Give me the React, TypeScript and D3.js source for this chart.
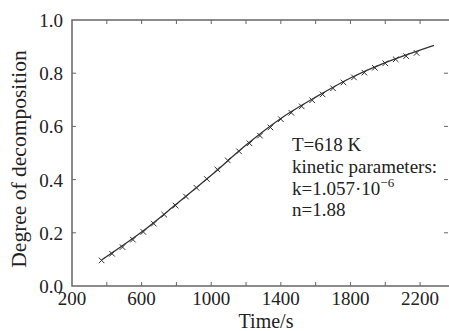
import React, { useRef, useEffect } from 'react';
import * as d3 from 'd3';

// measured points (x markers)
const timePoints = [370, 430, 490, 550, 610, 670, 730, 795, 855, 915, 975, 1035, 1095, 1160, 1220, 1280, 1340, 1400, 1460, 1520, 1580, 1640, 1700, 1760, 1820, 1880, 1940, 2000, 2060, 2120, 2180];
const degreePoints = [0.100, 0.125, 0.150, 0.178, 0.207, 0.238, 0.272, 0.306, 0.340, 0.373, 0.406, 0.442, 0.476, 0.510, 0.540, 0.569, 0.600, 0.631, 0.655, 0.679, 0.702, 0.724, 0.747, 0.769, 0.788, 0.806, 0.824, 0.841, 0.856, 0.868, 0.880];

// fitted curve
const fitTime = [370, 600, 800, 1000, 1200, 1400, 1600, 1800, 2000, 2280];
const fitDegree = [0.098, 0.203, 0.308, 0.416, 0.530, 0.630, 0.710, 0.782, 0.840, 0.905];

const xTicks = [200, 600, 1000, 1400, 1800, 2200];
const xMinorTicks = [400, 600, 800, 1000, 1200, 1400, 1600, 1800, 2000, 2200];
const yTicks = [0.0, 0.2, 0.4, 0.6, 0.8, 1.0];

const annotation = ['T=618 K', 'kinetic parameters:', 'k=1.057·10', 'n=1.88'];

const App = () => {
  const svgRef = useRef(null);
  const width = 449;
  const height = 331;
  const margin = { top: 20, right: 0, bottom: 45, left: 72 };

  useEffect(() => {
    const svg = d3.select(svgRef.current);
    svg.selectAll('*').remove();

    const x = d3.scaleLinear().domain([200, 2372]).range([margin.left, width + 1]);
    const y = d3.scaleLinear().domain([0, 1]).range([height - margin.bottom, margin.top]);
    const font = '"Liberation Serif", "Times New Roman", serif';
    const axisColor = '#666';
    const tickLen = 4;

    const g = svg.append('g');

    // frame
    g.append('rect')
      .attr('x', x(200)).attr('y', y(1))
      .attr('width', x(2372) - x(200)).attr('height', y(0) - y(1))
      .attr('fill', 'none').attr('stroke', axisColor).attr('stroke-width', 1.5);

    // ticks, inward on all sides
    xMinorTicks.forEach(t => {
      g.append('line').attr('x1', x(t)).attr('x2', x(t))
        .attr('y1', y(0)).attr('y2', y(0) - tickLen)
        .attr('stroke', axisColor).attr('stroke-width', 1);
      g.append('line').attr('x1', x(t)).attr('x2', x(t))
        .attr('y1', y(1)).attr('y2', y(1) + tickLen)
        .attr('stroke', axisColor).attr('stroke-width', 1);
    });
    yTicks.slice(1, -1).forEach(v => {
      g.append('line').attr('x1', x(200)).attr('x2', x(200) + tickLen)
        .attr('y1', y(v)).attr('y2', y(v))
        .attr('stroke', axisColor).attr('stroke-width', 1);
      g.append('line').attr('x1', width - 1).attr('x2', width - 1 - tickLen)
        .attr('y1', y(v)).attr('y2', y(v))
        .attr('stroke', axisColor).attr('stroke-width', 1);
    });

    // tick labels
    g.selectAll('.xlab').data(xTicks).enter().append('text')
      .attr('x', d => x(d)).attr('y', y(0) + 19)
      .attr('text-anchor', 'middle')
      .attr('font-family', font).attr('font-size', 19).attr('fill', '#222')
      .text(d => d);

    g.selectAll('.ylab').data(yTicks).enter().append('text')
      .attr('x', x(200) - 9).attr('y', d => y(d) + 7)
      .attr('text-anchor', 'end')
      .attr('font-family', font).attr('font-size', 19).attr('fill', '#222')
      .text(d => d.toFixed(1));

    // axis titles
    g.append('text')
      .attr('x', 266).attr('y', 328)
      .attr('text-anchor', 'middle')
      .attr('font-family', font).attr('font-size', 20).attr('fill', '#222')
      .text('Time/s');

    g.append('text')
      .attr('transform', `translate(26, 159) rotate(-90)`)
      .attr('text-anchor', 'middle')
      .attr('font-family', font).attr('font-size', 21.5).attr('fill', '#222')
      .text('Degree of decomposition');

    // fit line
    const fitData = fitTime.map((t, i) => [t, fitDegree[i]]);
    g.append('path')
      .datum(fitData)
      .attr('d', d3.line().x(d => x(d[0])).y(d => y(d[1])).curve(d3.curveCatmullRom))
      .attr('fill', 'none').attr('stroke', '#333').attr('stroke-width', 1.3);

    // markers
    const sym = d3.symbol().type(d3.symbolX).size(22);
    g.selectAll('.pt').data(timePoints).enter().append('path')
      .attr('d', sym)
      .attr('transform', (d, i) => `translate(${x(d)},${y(degreePoints[i]) + 1})`)
      .attr('fill', 'none').attr('stroke', '#333').attr('stroke-width', 1);

    // annotation
    const ax = 292;
    const baselines = [151, 173, 195, 216];
    annotation.forEach((s, i) => {
      const t = g.append('text')
        .attr('x', ax).attr('y', baselines[i])
        .attr('font-family', font).attr('font-size', 19).attr('fill', '#222')
        .text(s);
      if (i === 2) {
        t.append('tspan').attr('dy', -8).attr('font-size', 13).text('−6');
      }
    });
  }, []);

  return (
    <svg ref={svgRef} width={width} height={height}
      style={{ position: 'absolute', left: 0, top: 0, background: '#fff' }} />
  );
};

export default App;
